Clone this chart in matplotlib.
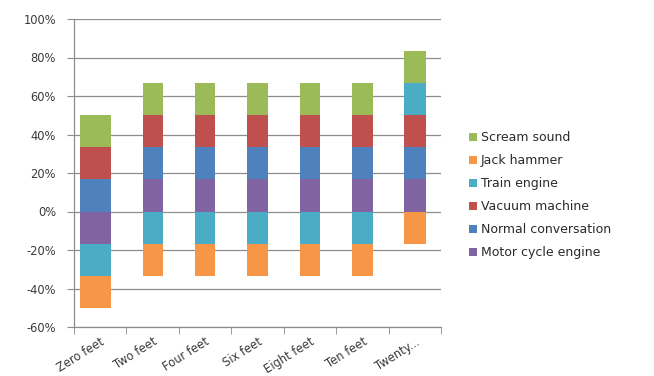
import numpy as np
import matplotlib
matplotlib.use("Agg")
import matplotlib.pyplot as plt
from matplotlib.patches import Patch

categories = ["Zero feet", "Two feet", "Four feet", "Six feet", "Eight feet", "Ten feet", "Twenty..."]

# Each series contributes one sixth of the total, positive or negative (in %)
motor_cycle_engine = [-16.67, 16.67, 16.67, 16.67, 16.67, 16.67, 16.67]
normal_conversation = [16.67, 16.67, 16.67, 16.67, 16.67, 16.67, 16.67]
vacuum_machine = [16.67, 16.67, 16.67, 16.67, 16.67, 16.67, 16.67]
train_engine = [-16.67, -16.67, -16.67, -16.67, -16.67, -16.67, 16.67]
jack_hammer = [-16.67, -16.67, -16.67, -16.67, -16.67, -16.67, -16.67]
scream_sound = [16.67, 16.67, 16.67, 16.67, 16.67, 16.67, 16.67]

series_names = ["Motor cycle engine", "Normal conversation", "Vacuum machine",
                "Train engine", "Jack hammer", "Scream sound"]
series_values = [motor_cycle_engine, normal_conversation, vacuum_machine,
                 train_engine, jack_hammer, scream_sound]
colors = ["#8064A2", "#4F81BD", "#C0504D", "#4BACC6", "#F79646", "#9BBB59"]

y_ticks = [-60, -40, -20, 0, 20, 40, 60, 80, 100]

# bar geometry (first bar drawn wider and slightly left)
bar_widths = [0.585, 0.38, 0.39, 0.40, 0.38, 0.39, 0.41]
bar_shift = [-0.09, 0, 0, 0, 0, 0, 0]

plt.rcParams["font.family"] = ["DejaVu Sans"]

fig = plt.figure(figsize=(6.54, 3.76), dpi=100)
ax = fig.add_axes([74 / 654, 1 - 327 / 376, (441 - 74) / 654, (327 - 19) / 376])

n = len(categories)
x = np.arange(n) + np.array(bar_shift)
pos_bottom = np.zeros(n)
neg_bottom = np.zeros(n)
for name, vals, col in zip(series_names, series_values, colors):
    vals = np.array(vals, dtype=float)
    bottoms = np.where(vals >= 0, pos_bottom, neg_bottom)
    ax.bar(x, vals, bottom=bottoms, width=bar_widths, color=col, zorder=3, linewidth=0)
    pos_bottom = pos_bottom + np.where(vals >= 0, vals, 0)
    neg_bottom = neg_bottom + np.where(vals < 0, vals, 0)

ax.set_xlim(-0.5, n - 0.5)
ax.set_ylim(-60, 100)
ax.set_yticks(y_ticks)
ax.set_yticklabels([f"{v}%" for v in y_ticks], fontsize=8.3, color="#3a3a3a")
ax.yaxis.grid(True, color="#8c8c8c", linewidth=0.9, zorder=0)
ax.tick_params(axis="y", length=5, color="#8c8c8c", pad=8)

ax.set_xticks(np.arange(n))
ax.set_xticklabels(categories, rotation=32, ha="right", rotation_mode="anchor",
                   fontsize=8.3, color="#3a3a3a")
ax.set_xticks(np.arange(n + 1) - 0.5, minor=True)
ax.tick_params(axis="x", which="major", length=0, pad=6)
ax.tick_params(axis="x", which="minor", length=5, color="#8c8c8c")

for side in ["top", "right"]:
    ax.spines[side].set_visible(False)
for side in ["left", "bottom"]:
    ax.spines[side].set_color("#8c8c8c")
    ax.spines[side].set_linewidth(0.9)

handles = [Patch(facecolor=c, edgecolor="none") for c in colors[::-1]]
fig.legend(handles, series_names[::-1], loc="upper left",
           bbox_to_anchor=(463 / 654, 1 - 125 / 376), frameon=False,
           fontsize=9, handlelength=0.65, handleheight=0.65,
           handletextpad=0.25, labelspacing=0.8, borderpad=0, labelcolor="#2a2a2a")

fig.savefig("out.png", dpi=100)
